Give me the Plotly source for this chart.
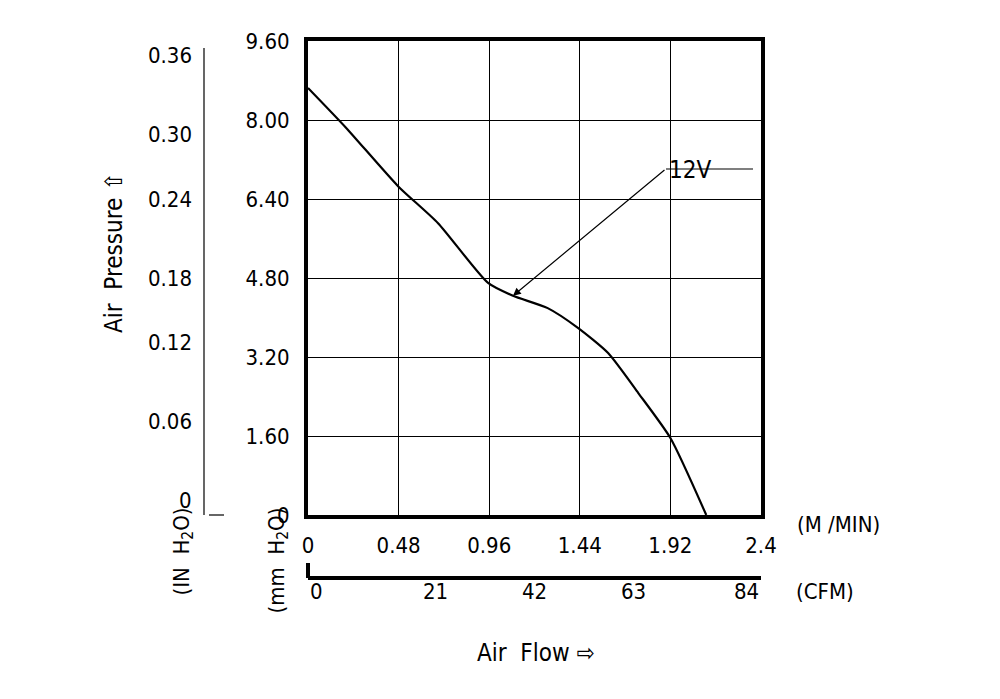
import plotly.graph_objects as go

flow_mmin = [0, 0.20, 0.477, 0.689, 0.954, 1.086, 1.27, 1.43, 1.59, 1.75, 1.92, 2.11]
pressure_mm = [8.65, 7.85, 6.66, 5.91, 4.70, 4.44, 4.19, 3.79, 3.28, 2.47, 1.56, 0]
x_ticks = [0, 0.48, 0.96, 1.44, 1.92, 2.4]
x_ticklabels = ["0", "0.48", "0.96", "1.44", "1.92", "2.4"]
y_ticks = [0, 1.6, 3.2, 4.8, 6.4, 8.0, 9.6]
y_ticklabels = ["0", "1.60", "3.20", "4.80", "6.40", "8.00", "9.60"]
cfm_labels = ["0", "21", "42", "63", "84"]
inh2o_labels = ["0", "0.06", "0.12", "0.18", "0.24", "0.30", "0.36"]

FONT = "Liberation Sans Narrow, DejaVu Sans Condensed, sans-serif"
L, R, T, B = 300, 753, 33, 507
def px(x): return (x - L) / (R - L)
def py(y): return (B - y) / (B - T)

fig = go.Figure()
fig.add_trace(go.Scatter(x=flow_mmin, y=pressure_mm, mode="lines",
                         line=dict(color="black", width=2.2, shape="spline", smoothing=0.6),
                         showlegend=False, hoverinfo="skip"))

ann = []
shapes = []
ann.append(dict(x=px(705), y=py(146), xref="paper", yref="paper", text="12V", showarrow=False,
                font=dict(size=24, family=FONT, color="black")))
shapes.append(dict(type="line", xref="paper", yref="paper", x0=px(658), y0=py(161), x1=px(745), y1=py(161),
                   line=dict(color="black", width=1.2)))
ann.append(dict(x=1.086, y=4.44, ax=153, ay=-127, xref="x", yref="y", axref="pixel", ayref="pixel",
                showarrow=True, arrowhead=2, arrowsize=1.3, arrowwidth=1.2, arrowcolor="black", text=""))
ann.append(dict(x=px(787), y=py(531), xref="paper", yref="paper", text="(M /MIN)", showarrow=False,
                xanchor="left", font=dict(size=22, family=FONT, color="black")))
shapes.append(dict(type="line", xref="paper", yref="paper", x0=0, y0=py(570), x1=1, y1=py(570),
                   line=dict(color="black", width=4)))
shapes.append(dict(type="line", xref="paper", yref="paper", x0=0, y0=py(555), x1=0, y1=py(570),
                   line=dict(color="black", width=4)))
for i, t in enumerate(cfm_labels):
    ann.append(dict(x=i / (len(cfm_labels) - 1), y=py(598), xref="paper", yref="paper", text=t,
                    showarrow=False, font=dict(size=22, family=FONT, color="black")))
ann.append(dict(x=px(786), y=py(598), xref="paper", yref="paper", text="(CFM)", showarrow=False,
                xanchor="left", font=dict(size=22, family=FONT, color="black")))
shapes.append(dict(type="line", xref="paper", yref="paper", x0=px(196), y0=py(40), x1=px(196), y1=py(507),
                   line=dict(color="black", width=1.2)))
shapes.append(dict(type="line", xref="paper", yref="paper", x0=px(201), y0=py(507), x1=px(216), y1=py(507),
                   line=dict(color="black", width=1.2)))
for i, t in enumerate(inh2o_labels):
    ann.append(dict(x=px(186), y=i / (len(inh2o_labels) - 1), xref="paper", yref="paper", text=t,
                    showarrow=False, xanchor="right", font=dict(size=22, family=FONT, color="black")))
ann.append(dict(x=px(90), y=py(245), xref="paper", yref="paper", text="Air  Pressure ⇧", textangle=-90,
                showarrow=False, font=dict(size=24, family=FONT, color="black")))
ann.append(dict(x=px(528), y=py(661), xref="paper", yref="paper", text="Air  Flow ⇨",
                showarrow=False, font=dict(size=24, family=FONT, color="black")))
ann.append(dict(x=px(158), y=py(590), xref="paper", yref="paper", text="(IN  H<sub>2</sub>O)", textangle=-90,
                showarrow=False, font=dict(size=22, family=FONT, color="black")))
ann.append(dict(x=px(253), y=py(608), xref="paper", yref="paper", text="(mm  H<sub>2</sub>O)", textangle=-90,
                showarrow=False, font=dict(size=22, family=FONT, color="black")))

fig.update_layout(
    width=1000, height=699, paper_bgcolor="white", plot_bgcolor="white",
    margin=dict(l=L, r=1000 - R, t=T, b=699 - B),
    xaxis=dict(range=[0, 2.4], tickvals=x_ticks, ticktext=x_ticklabels, showgrid=True,
               gridcolor="black", gridwidth=1, showline=True, linecolor="black", linewidth=4,
               mirror=True, zeroline=False, ticks="", ticklabelstandoff=8,
               tickfont=dict(size=22, family=FONT, color="black")),
    yaxis=dict(range=[0, 9.6], tickvals=y_ticks, ticktext=y_ticklabels, showgrid=True,
               gridcolor="black", gridwidth=1, showline=True, linecolor="black", linewidth=4,
               mirror=True, zeroline=False, ticks="", ticklabelstandoff=10,
               tickfont=dict(size=22, family=FONT, color="black")),
    annotations=ann, shapes=shapes,
)
fig.write_html("out.html")
